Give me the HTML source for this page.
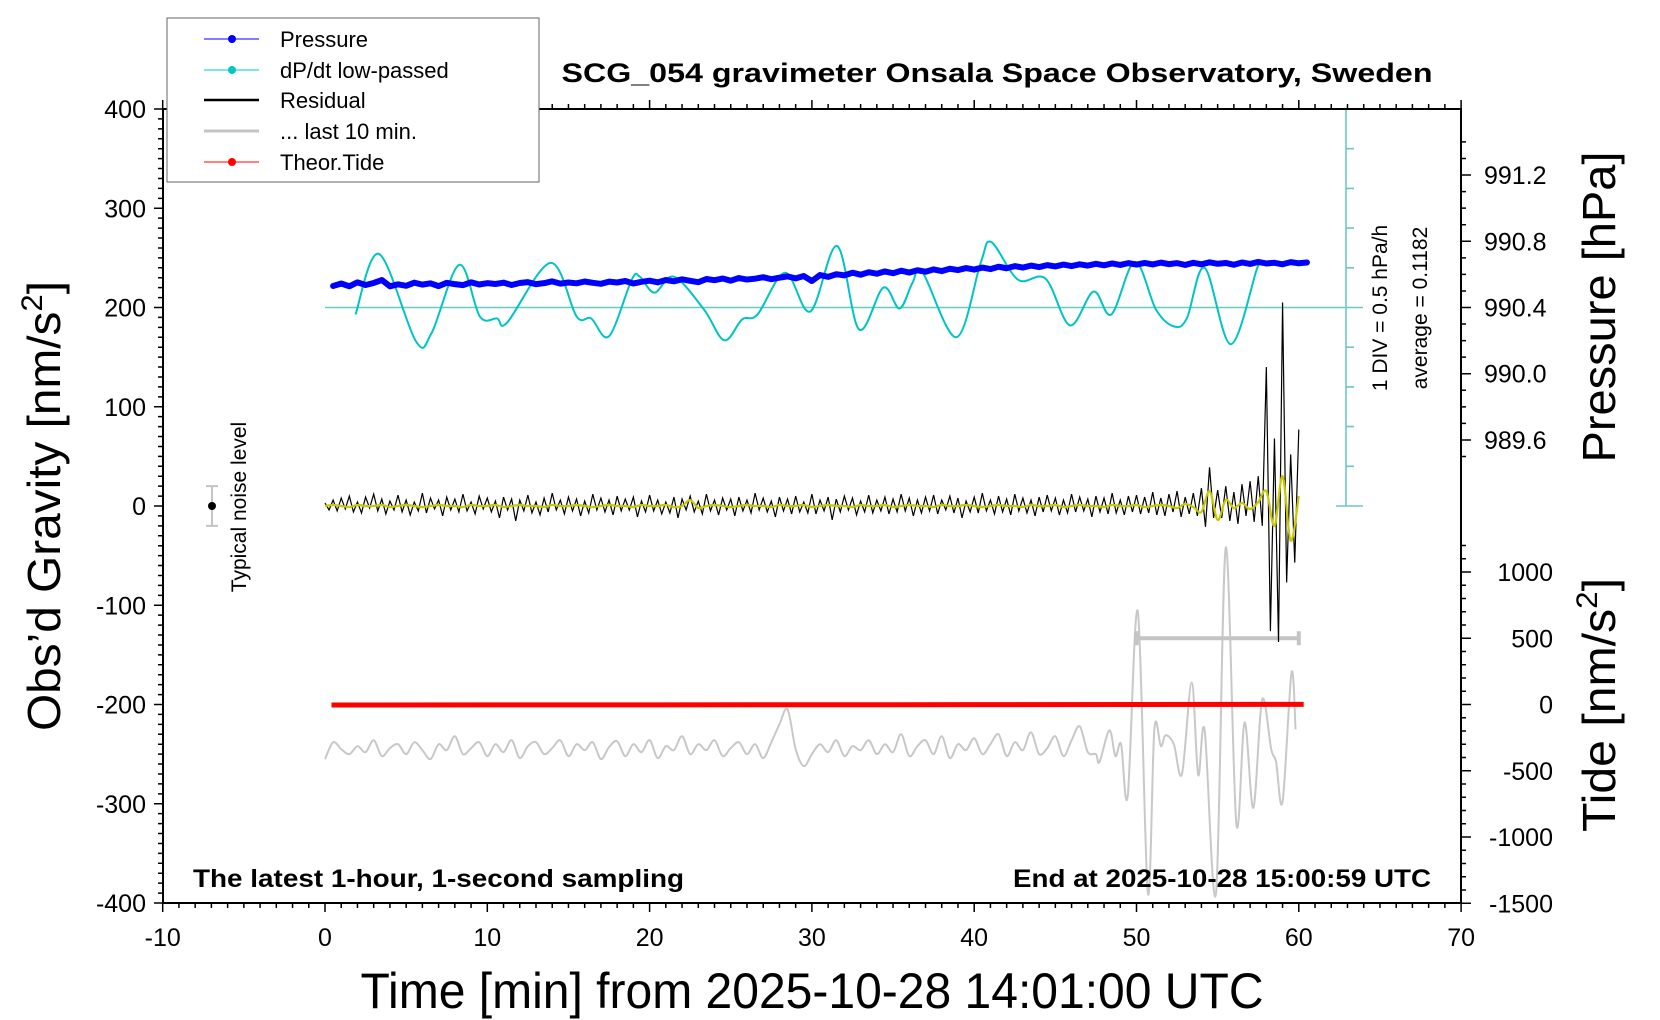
<!DOCTYPE html>
<html><head><meta charset="utf-8"><title>SCG_054 gravimeter</title>
<style>html,body{margin:0;padding:0;background:#fff;}svg{display:block;font-family:"Liberation Sans",Arial,sans-serif;}</style>
</head><body>
<svg id="chart" width="1660" height="1020" viewBox="0 0 1660 1020" xmlns="http://www.w3.org/2000/svg">
<rect x="0" y="0" width="1660" height="1020" fill="#fff"/>
<g id="ticks"></g>
<g id="series"></g>
<rect x="163" y="109" width="1298" height="794" fill="none" stroke="#000" stroke-width="2"/>
<g id="labels"></g>
<text x="997" y="82" text-anchor="middle" font-size="27" font-weight="bold" textLength="871" lengthAdjust="spacingAndGlyphs">SCG_054 gravimeter Onsala Space Observatory, Sweden</text>
<text transform="translate(60,506) rotate(-90)" text-anchor="middle" font-size="46" textLength="450" lengthAdjust="spacingAndGlyphs">Obs’d Gravity [nm/s<tspan font-size="30" dy="-18">2</tspan><tspan dy="18">]</tspan></text>
<text transform="translate(1615,307) rotate(-90)" text-anchor="middle" font-size="46" textLength="311" lengthAdjust="spacingAndGlyphs">Pressure [hPa]</text>
<text transform="translate(1615,705) rotate(-90)" text-anchor="middle" font-size="46" textLength="254" lengthAdjust="spacingAndGlyphs">Tide [nm/s<tspan font-size="30" dy="-18">2</tspan><tspan dy="18">]</tspan></text>
<text x="812" y="1008" text-anchor="middle" font-size="50" textLength="903" lengthAdjust="spacingAndGlyphs">Time [min] from 2025-10-28 14:01:00 UTC</text>
<text x="193" y="887" font-size="25" font-weight="bold" textLength="491" lengthAdjust="spacingAndGlyphs">The latest 1-hour, 1-second sampling</text>
<text x="1431" y="887" text-anchor="end" font-size="25" font-weight="bold" textLength="418" lengthAdjust="spacingAndGlyphs">End at 2025-10-28 15:00:59 UTC</text>
<text transform="translate(1387,308) rotate(-90)" text-anchor="middle" font-size="21">1 DIV = 0.5 hPa/h</text>
<text transform="translate(1427,308) rotate(-90)" text-anchor="middle" font-size="21">average = 0.1182</text>
<text transform="translate(246,507) rotate(-90)" text-anchor="middle" font-size="21">Typical noise level</text>
<g>
<rect x="167" y="18" width="372" height="164" fill="#fff" stroke="#666" stroke-width="1"/>
<g><line x1="204" y1="39" x2="259" y2="39" stroke="#0000ff" stroke-width="1"/><circle cx="232" cy="39" r="4" fill="#0000ff"/><text x="280" y="47" font-size="22">Pressure</text></g>
<g><line x1="204" y1="70" x2="259" y2="70" stroke="#00c8c8" stroke-width="1"/><circle cx="232" cy="70" r="4" fill="#00c8c8"/><text x="280" y="78" font-size="22">dP/dt low-passed</text></g>
<g><line x1="204" y1="100" x2="259" y2="100" stroke="#000" stroke-width="2.5"/><text x="280" y="108" font-size="22">Residual</text></g>
<g><line x1="204" y1="131" x2="259" y2="131" stroke="#c4c4c4" stroke-width="3"/><text x="280" y="139" font-size="22">... last 10 min.</text></g>
<g><line x1="204" y1="162" x2="259" y2="162" stroke="#ff0000" stroke-width="1"/><circle cx="232" cy="162" r="4" fill="#ff0000"/><text x="280" y="170" font-size="22">Theor.Tide</text></g>
</g>
</svg>
<script>
// ---- data ----
const pressureStart = 0.5, pressureStep = 0.5;
const pressureHPa = [990.530,990.545,990.528,990.552,990.536,990.548,990.566,990.528,990.540,990.531,990.550,990.538,990.546,990.529,990.549,990.541,990.535,990.552,990.539,990.547,
990.542,990.550,990.536,990.548,990.553,990.541,990.547,990.558,990.544,990.551,990.546,990.557,990.549,990.543,990.556,990.551,990.560,990.545,990.555,990.562,
990.552,990.566,990.558,990.570,990.561,990.553,990.572,990.565,990.575,990.562,990.578,990.569,990.574,990.583,990.571,990.580,990.588,990.576,990.590,990.560,
990.596,990.585,990.601,990.594,990.610,990.598,990.613,990.604,990.618,990.607,990.622,990.611,990.625,990.616,990.630,990.620,990.634,990.626,990.638,990.629,
990.641,990.632,990.646,990.637,990.650,990.641,990.653,990.644,990.656,990.648,990.659,990.650,990.661,990.653,990.664,990.655,990.666,990.657,990.668,990.659,
990.669,990.660,990.671,990.662,990.668,990.657,990.670,990.661,990.673,990.664,990.669,990.658,990.672,990.663,990.675,990.666,990.670,990.661,990.674,990.667,990.672];
const dpdtTimes = [1.88,3.33,5.6,6.56,8.27,9.54,10.6,11.23,13.9,15.5,16.4,17.5,18.9,19.4,20.3,21.5,23.35,24.6,25.7,26.65,28.35,29.9,31.55,32.9,34.4,35.4,36.2,36.8,38.9,40.4,41.05,42.7,44.4,45.9,47.35,48.45,49.9,51.2,52.3,53.1,54.2,55.8,57.4,57.6];
const dpdtValues = [193,254,166,174,243,191,189,185,245,191,189,171,228,231,215,231,198,167,188,193,235,196,262,178,220,199,225,236,170,245,266,228,229,182,216,193,246,198,181,189,240,163,238,244];
const residualStep = 0.25;
const residualValues = [3,-4,6,-5,8,-3,10,-6,4,-7,9,-2,12,-5,7,-8,5,-4,11,-6,
6,-9,4,-5,13,-7,8,-3,6,-10,9,-4,7,-6,12,-5,4,-8,10,-3,
8,-6,5,-12,9,-4,7,-15,6,-5,11,-7,4,-9,8,-6,13,-4,6,-8,
9,-5,7,-10,5,-7,12,-4,8,-6,6,-9,10,-5,7,-4,9,-11,5,-6,
11,-5,6,-8,4,-7,9,-12,7,-4,10,-6,5,-8,12,-5,6,-9,8,-4,
7,-10,9,-5,6,-7,13,-4,8,-6,5,-11,9,-5,7,-8,10,-6,4,-7,
12,-8,6,-5,9,-14,7,-6,10,-4,8,-9,5,-6,11,-7,6,-5,9,-8,
7,-6,12,-5,8,-10,6,-7,9,-5,11,-8,6,-4,10,-7,8,-12,5,-6,
9,-7,13,-5,6,-8,10,-6,7,-9,12,-5,8,-7,6,-10,9,-6,11,-5,
8,-9,6,-7,12,-6,9,-5,7,-11,10,-6,8,-8,13,-7,6,-9,10,-6,
11,-8,9,-7,14,-9,8,-10,12,-6,15,-11,9,-8,13,-10,18,-21,39,-12,
16,-12,20,-15,14,-18,22,-10,25,-16,30,-20,140,-126,68,-137,205,-77,52,-57,77];
const smoothStep = 0.5;
const smoothValues = [0,1,0,-1,1,0,0,1,-1,0,1,0,-1,0,1,0,0,-1,1,0,
0,1,-1,0,1,0,0,-1,1,0,0,1,0,-1,0,1,0,0,-1,1,
0,0,1,-1,0,6,-2,0,1,0,-1,0,1,0,0,-1,1,0,0,1,
-1,0,1,0,0,-1,1,0,0,1,-1,0,1,0,0,-1,1,0,0,1,
0,-1,0,1,0,0,-1,1,0,0,1,-1,0,1,0,0,-1,1,0,0,
1,-1,0,1,0,-2,2,-1,-6,15,-14,6,-2,3,-3,4,15,-20,30,-35,10];
const grayStep = 0.5;
const grayValues = [-255,-238,-245,-250,-242,-248,-236,-252,-244,-240,-250,-238,-246,-255,-240,-246,-232,-250,-244,-238,
-252,-240,-248,-236,-254,-242,-238,-250,-244,-236,-252,-240,-246,-238,-255,-243,-237,-252,-240,-248,
-236,-254,-242,-246,-232,-250,-240,-246,-236,-252,-244,-238,-250,-240,-254,-238,-220,-205,-245,-262,
-250,-240,-248,-236,-252,-242,-246,-236,-250,-240,-248,-230,-252,-242,-236,-250,-232,-254,-240,-246,
-234,-250,-240,-230,-252,-238,-246,-228,-250,-244,-232,-252,-236,-222,-248,-250];
const grayTailTimes = [47.72,48.33,48.7,49.05,49.46,50.08,50.7,51.1,51.5,51.8,52.3,52.8,53.4,53.8,54.2,54.9,55.5,56.15,56.66,57.2,57.74,58.3,58.6,59.0,59.55,59.8];
const grayTailValues = [-258,-226,-252,-240,-292,-106,-390,-225,-242,-231,-240,-270,-178,-271,-226,-390,-42,-320,-218,-304,-195,-245,-258,-298,-168,-225];
const tideTimes = [0.4,10,20,30,40,50,60.3];
const tideValues = [-4,-3,-3,-2,-1,0,1];
const windowBar = [50,60];
const xTicks = [-10,0,10,20,30,40,50,60,70];
const gravTicks = [400,300,200,100,0,-100,-200,-300,-400];
const pressTicks = ["989.6","990.0","990.4","990.8","991.2"];
const tideTicks = [1000,500,0,-500,-1000,-1500];

// ---- axes ----
const X0=325, PPM=16.23, L=163, R=1461, T=109, B=903;
const xs = t => X0 + t*PPM;
const yg = g => T + (400-g)*(B-T)/800;
const yp = p => yg(200) - (p-990.4)*165.6;
const yt = v => yg(-200) - v*0.1325;
const NS="http://www.w3.org/2000/svg";
function mk(tag, attrs, parent){const e=document.createElementNS(NS,tag);for(const k in attrs)e.setAttribute(k,attrs[k]);parent.appendChild(e);return e;}
const ticksG=document.getElementById('ticks'), ser=document.getElementById('series'), lab=document.getElementById('labels');
let d='';
for(let t=-10;t<=70;t++){const x=xs(t),big=(t%10===0);d+=`M${x},${B}v${big?9:5}M${x},${T}v${big?-9:-5}`;}
for(let g=-400;g<=400;g+=10){const y=yg(g),big=(g%100===0);d+=`M${L},${y}h${big?-9:-5}`;}
for(let p=989.5;p<=991.45;p+=0.1){const y=yp(p);if(y<T-0.5||y>yg(0)+40)continue;const big=Math.abs(p*10-Math.round(p*10))<0.01&&Math.round(p*10)%4===0;d+=`M${R},${y}h${big?10:5}`;}
for(let v=-1500;v<=1200;v+=100){const y=yt(v);if(y>B+0.5||y<yg(0)+30)continue;d+=`M${R},${y}h${v%500===0?10:5}`;}
const tk=mk('path',{d:d,stroke:'#000','stroke-width':1.5,fill:'none'},ticksG);


xTicks.forEach(t=>{const e=mk('text',{x:xs(t),y:946,'text-anchor':'middle','font-size':25},lab);e.textContent=t;

});
gravTicks.forEach(g=>{const e=mk('text',{x:146,y:yg(g)+9,'text-anchor':'end','font-size':25},lab);e.textContent=g;

});
pressTicks.forEach(p=>{const e=mk('text',{x:1484,y:yp(parseFloat(p))+9,'font-size':25},lab);e.textContent=p;

});
tideTicks.forEach(v=>{const e=mk('text',{x:1553,y:yt(v)+9,'text-anchor':'end','font-size':25},lab);e.textContent=v;

});

// ---- dP/dt scale bar and zero line ----
const sx=1346;
let sd=`M${xs(0)},${yg(200)}H1363M${sx},${T}V${yg(0)}M1336,${yg(0)}H1363M1336,${T}H1363`;
for(let i=1;i<10;i++){const y=T+i*(yg(0)-T)/10;sd+=`M${sx},${y}h${i===5?17:8}`;}
const sb=mk('path',{d:sd,stroke:'#6cc8c8','stroke-width':1.6,fill:'none'},ser);



// ---- dP/dt curve (Catmull-Rom) ----
function spline(pts){let s=`M${pts[0][0]},${pts[0][1]}`;for(let i=0;i<pts.length-1;i++){const p0=pts[Math.max(0,i-1)],p1=pts[i],p2=pts[i+1],p3=pts[Math.min(pts.length-1,i+2)];
s+=`C${p1[0]+(p2[0]-p0[0])/6},${p1[1]+(p2[1]-p0[1])/6} ${p2[0]-(p3[0]-p1[0])/6},${p2[1]-(p3[1]-p1[1])/6} ${p2[0]},${p2[1]}`;}return s;}
const cy=mk('path',{d:spline(dpdtTimes.map((t,i)=>[xs(t),yg(dpdtValues[i])])),stroke:'#00c4c4','stroke-width':2,fill:'none'},ser);



// ---- pressure ----
const pp=mk('path',{d:'M'+pressureHPa.map((p,i)=>`${xs(pressureStart+i*pressureStep)},${yp(p)}`).join('L'),stroke:'#0000ff','stroke-width':6,fill:'none','stroke-linejoin':'round','stroke-linecap':'round'},ser);



// ---- gray last 10 min ----
const gpts=grayValues.map((v,i)=>[xs(i*grayStep),yg(v)]).concat(grayTailTimes.map((t,i)=>[xs(t),yg(grayTailValues[i])]));
const gp=mk('path',{d:spline(gpts),stroke:'#c8c8c8','stroke-width':2,fill:'none'},ser);


const wb=mk('path',{d:`M${xs(windowBar[0])},${yt(500)}H${xs(windowBar[1])}M${xs(windowBar[0])},${yt(500)-7}v14M${xs(windowBar[1])},${yt(500)-7}v14`,stroke:'#c4c4c4','stroke-width':4,fill:'none'},ser);



// ---- tide ----
const td=mk('path',{d:'M'+tideTimes.map((t,i)=>`${xs(t)},${yt(tideValues[i])}`).join('L'),stroke:'#ff0000','stroke-width':5,fill:'none'},ser);



// ---- residual ----
const rs=mk('path',{d:'M'+residualValues.map((v,i)=>`${xs(i*residualStep)},${yg(v)}`).join('L'),stroke:'#000','stroke-width':1.2,fill:'none'},ser);


const sm=mk('path',{d:spline(smoothValues.map((v,i)=>[xs(i*smoothStep),yg(v)])),stroke:'#c8c800','stroke-width':2.2,fill:'none'},ser);



// ---- noise marker ----
const nb=mk('path',{d:`M212,${yg(20)}V${yg(-20)}M206,${yg(20)}h12M206,${yg(-20)}h12`,stroke:'#c4c4c4','stroke-width':2,fill:'none'},ser);


const nd=mk('circle',{cx:212,cy:yg(0),r:4,fill:'#000'},ser);


</script>
</body></html>
